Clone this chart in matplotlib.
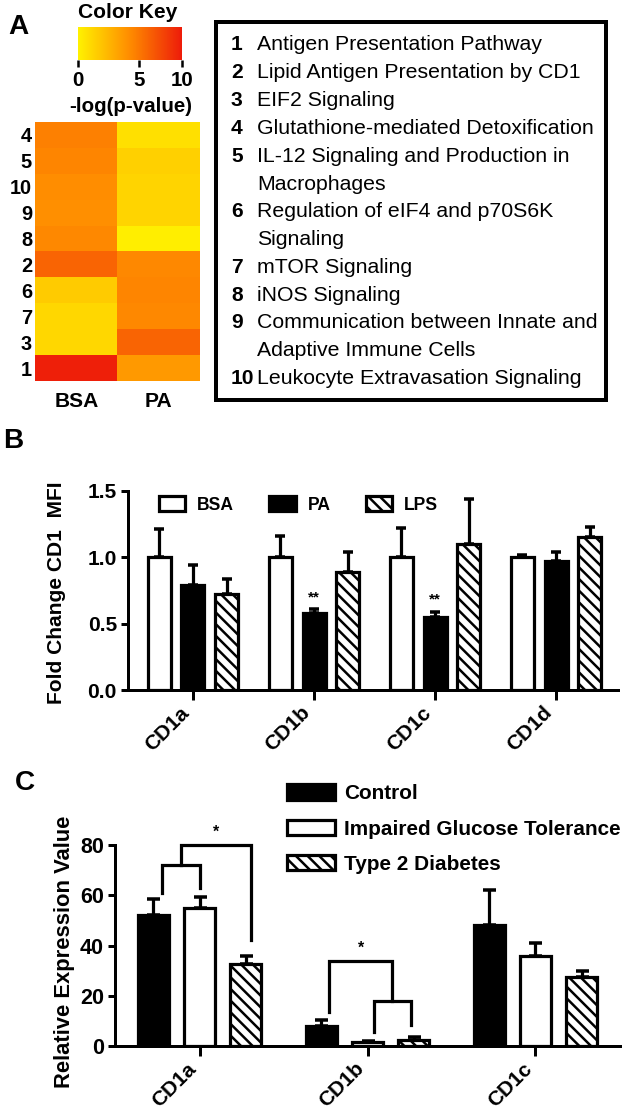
import numpy as np
import matplotlib
matplotlib.use('Agg')
import matplotlib.pyplot as plt
from matplotlib.colors import LinearSegmentedColormap, FuncNorm
from matplotlib.patches import Rectangle

# Panel A: top-ranked canonical pathways, heatmap rows as displayed (top to bottom)
pathway_names = [
    'Antigen Presentation Pathway',
    'Lipid Antigen Presentation by CD1',
    'EIF2 Signaling',
    'Glutathione-mediated Detoxification',
    'IL-12 Signaling and Production in\nMacrophages',
    'Regulation of eIF4 and p70S6K\nSignaling',
    'mTOR Signaling',
    'iNOS Signaling',
    'Communication between Innate and\nAdaptive Immune Cells',
    'Leukocyte Extravasation Signaling',
]
heat_order = [4, 5, 10, 9, 8, 2, 6, 7, 3, 1]
heat_conditions = ['BSA', 'PA']
bsa_logp = [4.7, 4.5, 4.2, 4.1, 4.4, 6.0, 1.6, 1.1, 1.1, 9.8]
pa_logp = [0.75, 1.4, 1.25, 1.25, 0.17, 4.4, 4.5, 4.4, 6.0, 3.7]
key_ticks = [0, 5, 10]

# Panel B: CD1 MFI fold change
b_targets = ['CD1a', 'CD1b', 'CD1c', 'CD1d']
b_series = ['BSA', 'PA', 'LPS']
bsa_fc = [1.0, 1.0, 1.0, 1.0]
bsa_fc_err = [0.21, 0.16, 0.22, 0.02]
pa_fc = [0.79, 0.58, 0.55, 0.97]
pa_fc_err = [0.15, 0.03, 0.04, 0.07]
lps_fc = [0.72, 0.89, 1.10, 1.15]
lps_fc_err = [0.12, 0.15, 0.34, 0.08]
b_ticks = [0.0, 0.5, 1.0, 1.5]

# Panel C: relative expression
c_targets = ['CD1a', 'CD1b', 'CD1c']
c_series = ['Control', 'Impaired Glucose Tolerance', 'Type 2 Diabetes']
ctrl_expr = [52, 8, 48]
ctrl_expr_err = [6.5, 2.3, 14]
igt_expr = [55, 1.5, 36]
igt_expr_err = [4.5, 0.5, 5]
t2d_expr = [32.5, 2.5, 27.5]
t2d_expr_err = [3.5, 1.0, 2.5]
c_ticks = [0, 20, 40, 60, 80]

W, H, DPI = 625, 1116, 70


def P(px):
    # pixels -> points
    return px * 72.0 / DPI


plt.rcParams['font.family'] = ['Liberation Sans', 'DejaVu Sans']
plt.rcParams['hatch.linewidth'] = P(2.5)
plt.rcParams['hatch.color'] = 'black'

fig = plt.figure(figsize=(W / DPI, H / DPI), dpi=DPI)


def px_axes(x0, y0, x1, y1):
    return fig.add_axes([x0 / W, 1 - y1 / H, (x1 - x0) / W, (y1 - y0) / H])


def fig_text(x, y, s, **kw):
    return fig.text(x / W, 1 - y / H, s, **kw)


# ---------------- Panel A ----------------
fig_text(18, 27, 'A', fontsize=P(28), fontweight='bold', ha='center', va='center')

cmap = LinearSegmentedColormap.from_list('key', ['#FFF200', '#FF8C00', '#EE1C0A'])
key_fwd = lambda v: np.interp(v, [0, 5, 10], [0, 0.59, 1])
key_inv = lambda u: np.interp(u, [0, 0.59, 1], [0, 5, 10])
norm = FuncNorm((key_fwd, key_inv), vmin=0, vmax=10)

cax = px_axes(78, 27, 182, 60)
cax.imshow(np.linspace(0, 1, 256)[None, :], cmap=cmap, aspect='auto', extent=(0, 1, 0, 1))
cax.set_xticks([float(key_fwd(t)) for t in key_ticks])
cax.set_xticklabels([str(t) for t in key_ticks], fontsize=P(20.5), fontweight='bold')
cax.set_yticks([])
cax.tick_params(axis='x', length=P(7), width=P(2.5), pad=P(4))
for s in cax.spines.values():
    s.set_visible(False)
fig_text(128, 12, 'Color Key', fontsize=P(21), fontweight='bold', ha='center', va='center')
fig_text(131, 107, '-log(p-value)', fontsize=P(20.5), fontweight='bold', ha='center', va='center')

hax = px_axes(35, 122, 200, 381)
heat_vals = np.column_stack([bsa_logp, pa_logp])
hax.imshow(heat_vals, cmap=cmap, norm=norm, aspect='auto', interpolation='nearest')
hax.set_yticks(range(len(heat_order)))
hax.set_yticklabels([str(r) for r in heat_order], fontsize=P(20), fontweight='bold')
hax.set_xticks(range(len(heat_conditions)))
hax.set_xticklabels(heat_conditions, fontsize=P(21), fontweight='bold')
hax.tick_params(length=0)
hax.tick_params(axis='y', pad=P(3))
hax.tick_params(axis='x', pad=P(11))
for s in hax.spines.values():
    s.set_visible(False)

fig.add_artist(Rectangle((216 / W, 1 - 400 / H), 390 / W, 378 / H, transform=fig.transFigure,
                         fill=False, edgecolor='black', linewidth=P(4)))
line_y = 45
for i, name in enumerate(pathway_names):
    fig_text(231, line_y, str(i + 1), fontsize=P(21), fontweight='bold', ha='left', va='center')
    for part in name.split('\n'):
        fig_text(257, line_y, part, fontsize=P(21.3), ha='left', va='center')
        line_y += 27.8


def bars_with_err(ax, means, errs, styles, labels, step, width, cap):
    x = np.arange(len(means[0]))
    out = []
    for i, (m, e, st, lab) in enumerate(zip(means, errs, styles, labels)):
        xi = x + (i - 1) * step
        ax.bar(xi, m, width, facecolor=st[0], edgecolor='black', hatch=st[1],
               linewidth=P(3.2), label=lab, zorder=3)
        ax.errorbar(xi, m, yerr=[np.zeros(len(m)), e], fmt='none', ecolor='black',
                    elinewidth=P(3.2), capsize=P(cap), capthick=P(3.5), zorder=2)
        out.append(xi)
    return out


def style_axes(ax):
    for s in ['top', 'right']:
        ax.spines[s].set_visible(False)
    for s in ['left', 'bottom']:
        ax.spines[s].set_linewidth(P(3))
    ax.tick_params(axis='y', direction='out', length=P(7), width=P(3), pad=P(4))
    ax.tick_params(axis='x', direction='out', length=P(10), width=P(3), pad=P(3))


# ---------------- Panel B ----------------
fig_text(13, 441, 'B', fontsize=P(28), fontweight='bold', ha='center', va='center')
bax = px_axes(128, 491, 618, 690)
b_step = 0.28
bx = bars_with_err(bax, [bsa_fc, pa_fc, lps_fc], [bsa_fc_err, pa_fc_err, lps_fc_err],
                   [('white', None), ('black', None), ('white', '\\\\')], b_series, b_step, 0.19, 5)
bax.set_xlim(-0.537, 3.512)
bax.set_ylim(0, 1.5)
style_axes(bax)
bax.set_yticks(b_ticks)
bax.set_yticklabels(['%.1f' % t for t in b_ticks], fontsize=P(21), fontweight='bold')
bax.set_xticks(range(len(b_targets)))
bax.set_xticklabels(b_targets, fontsize=P(21), fontweight='bold', rotation=45, ha='right')
bax.set_ylabel('Fold Change CD1  MFI', fontsize=P(21), fontweight='bold')
bax.yaxis.set_label_coords(-0.145, 0.49)
bax.yaxis.label.set_va('center')
for j in [1, 2]:
    bax.text(bx[1][j], pa_fc[j] + pa_fc_err[j] + 0.09, '**', fontsize=P(15), fontweight='bold',
             ha='center', va='center')
bax.legend(loc='upper left', bbox_to_anchor=(150 / W, 1 - 487 / H), bbox_transform=fig.transFigure,
           ncol=3, frameon=False, borderpad=0, handlelength=1.5, handleheight=1.0,
           handletextpad=0.7, columnspacing=2.0, prop={'size': P(17.5), 'weight': 'bold'})

# ---------------- Panel C ----------------
fig_text(25, 783, 'C', fontsize=P(28), fontweight='bold', ha='center', va='center')
cx_ax = px_axes(115, 845, 620, 1046)
c_step = 0.274
cxs = bars_with_err(cx_ax, [ctrl_expr, igt_expr, t2d_expr], [ctrl_expr_err, igt_expr_err, t2d_expr_err],
                    [('black', None), ('white', None), ('white', '\\\\')], c_series, c_step, 0.19, 6.5)
cx_ax.set_xlim(-0.503, 2.503)
cx_ax.set_ylim(0, 80)
style_axes(cx_ax)
cx_ax.set_yticks(c_ticks)
cx_ax.set_yticklabels([str(t) for t in c_ticks], fontsize=P(21.5), fontweight='bold')
cx_ax.set_xticks(range(len(c_targets)))
cx_ax.set_xticklabels(c_targets, fontsize=P(21), fontweight='bold', rotation=45, ha='right')
cx_ax.set_ylabel('Relative Expression Value', fontsize=P(22), fontweight='bold')
cx_ax.yaxis.set_label_coords(-0.1, 0.47)
cx_ax.yaxis.label.set_va('center')


def bracket(ax, xl, xr, ytop, yl, yr):
    ax.plot([xl, xl, xr, xr], [yl, ytop, ytop, yr], color='black', lw=P(3.2),
            clip_on=False, solid_joinstyle='miter', zorder=4)


# CD1a: Control vs IGT, then vs T2D
l0 = cxs[0][0] + 0.05
r0 = cxs[1][0]
bracket(cx_ax, l0, r0, 72, 61, 63)
m0 = (l0 + r0) / 2
t0 = cxs[2][0] + 0.033
bracket(cx_ax, m0, t0, 80, 72, 42)
cx_ax.text((m0 + t0) / 2, 85, '*', fontsize=P(16), fontweight='bold', ha='center', va='center')

# CD1b: IGT vs T2D, then vs Control
l1 = cxs[1][1] + 0.036
r1 = cxs[2][1] - 0.015
bracket(cx_ax, l1, r1, 18, 5.5, 8.3)
m1 = (l1 + r1) / 2
c1 = cxs[0][1] + 0.045
bracket(cx_ax, c1, m1, 34, 13.5, 18)
cx_ax.text((c1 + m1) / 2, 39, '*', fontsize=P(16), fontweight='bold', ha='center', va='center')

cx_ax.legend(loc='upper left', bbox_to_anchor=(277 / W, 1 - 774 / H), bbox_transform=fig.transFigure,
             ncol=1, frameon=False, borderpad=0, handlelength=2.3, handleheight=0.77,
             handletextpad=0.43, labelspacing=0.78, prop={'size': P(20.8), 'weight': 'bold'})

fig.savefig('out.png', dpi=DPI)
